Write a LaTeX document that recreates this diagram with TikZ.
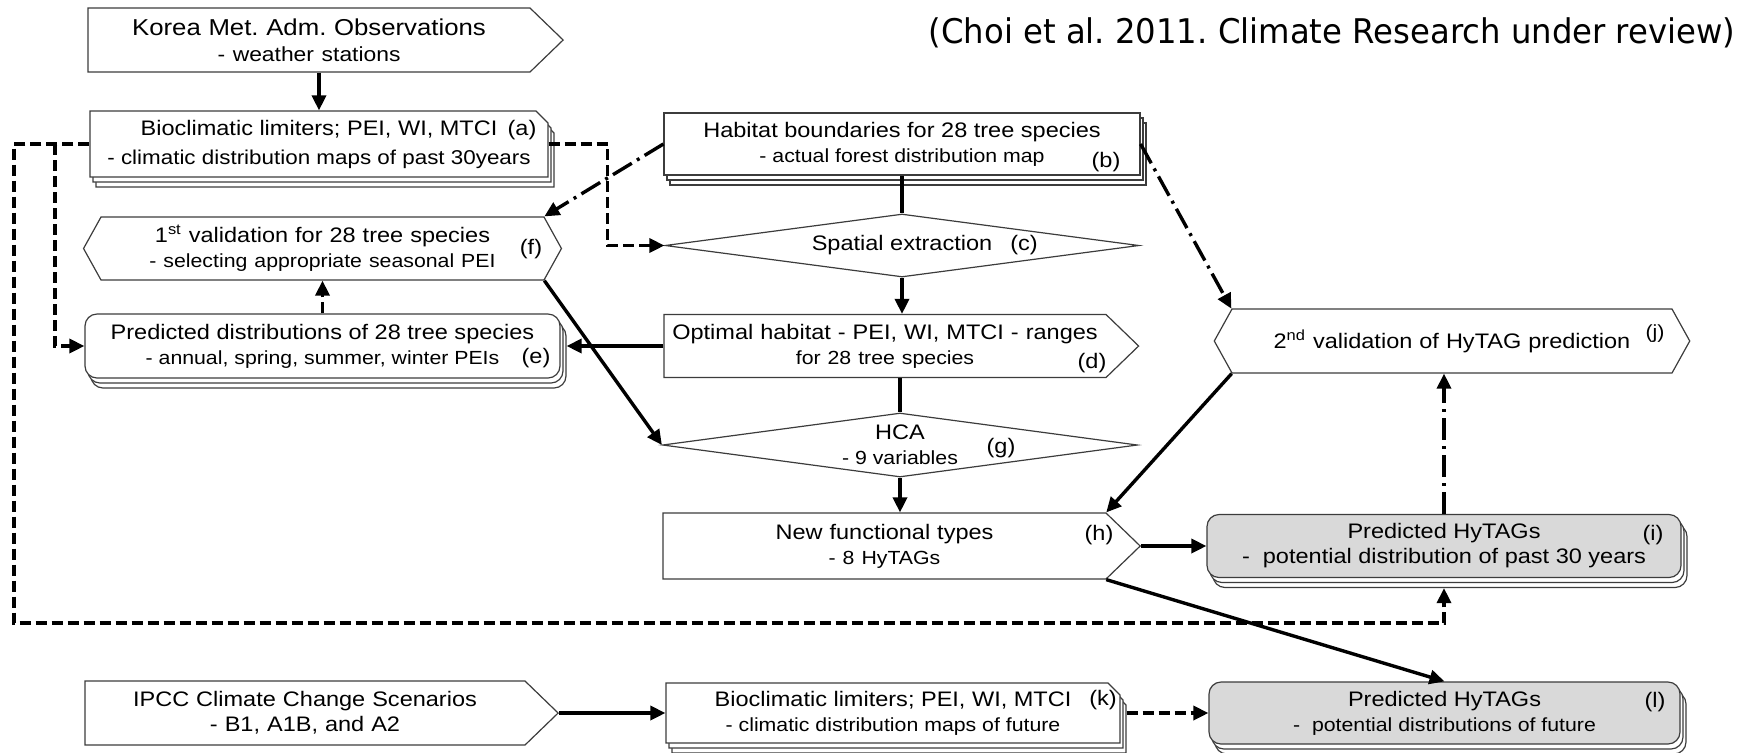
\documentclass[tikz,border=0pt]{standalone}
\usepackage{fontspec}
\setmainfont[FakeStretch=1.12]{Liberation Sans}
\newfontfamily\titlefont[FakeStretch=0.95]{DejaVu Sans}
\usetikzlibrary{arrows.meta,shapes.geometric,shapes.symbols,shapes.misc,shadows}
\definecolor{boxgray}{HTML}{D9D9D9}
\definecolor{edgegray}{HTML}{3C3C3C}
\newcommand{\bigtxt}{\fontsize{10.5}{12.5}\selectfont}
\newcommand{\midtxt}{\fontsize{10}{12.5}\selectfont}
\newcommand{\smalltxt}{\fontsize{9.5}{12.5}\selectfont}
\frenchspacing
\tikzset{
  box/.style={draw=edgegray,line width=0.6pt,fill=white,inner sep=0pt,align=center,font=\bigtxt},
  stack/.style={general shadow={shadow xshift=3pt,shadow yshift=-5pt,fill=white,draw=edgegray,line width=0.6pt},
    general shadow={shadow xshift=1.5pt,shadow yshift=-2.5pt,fill=white,draw=edgegray,line width=0.6pt}},
  arrowbox/.style={box,signal,signal to=east,signal pointer angle=88},
  hexbox/.style={box,signal,signal to=east and west,signal pointer angle=122},
  decision/.style={box,diamond,aspect=7.5},
  docbox/.style={box,stack},
  snipbox/.style={box,stack,chamfered rectangle,chamfered rectangle corners=north east,chamfered rectangle xsep=3pt,chamfered rectangle ysep=3pt},
  roundbox/.style={box,stack,rounded corners=6pt},
  tag/.style={inner sep=0pt,font=\bigtxt},
  arr/.style={line width=1.7pt,-{Triangle[length=7.5pt,width=7pt]}},
  link/.style={line width=1.7pt},
  dsh/.style={arr,dash pattern=on 5.5pt off 2.5pt},
  dashdot/.style={arr,dash pattern=on 11pt off 3pt on 1.5pt off 3pt}
}
\begin{document}
\begin{tikzpicture}[x=0.5pt,y=-0.5pt]
\useasboundingbox (0,0) rectangle (1760,752);
\node[font=\titlefont\fontsize{17}{20}\selectfont] (title) at (1332,33) {(Choi et al. 2011. Climate Research under review)};
\node[arrowbox,text width=221pt,minimum height=32pt,font=\fontsize{11.5}{13}\selectfont] (korea) at (309,40) {Korea Met. Adm. Observations\\\fontsize{10.2}{13}\selectfont - weather stations};
\node[snipbox,minimum width=229pt,minimum height=33pt] (a) at (319,144) {Bioclimatic limiters; PEI, WI, MTCI\\[2pt]\midtxt - climatic distribution maps of past 30years};
\node[tag] (la) at (522,130) {(a)};
\node[docbox,minimum width=238pt,minimum height=31pt] (b) at (902,144) {Habitat boundaries for 28 tree species\\\smalltxt - actual forest distribution map};
\node[tag] (lb) at (1106,162) {(b)};
\node[decision,minimum width=237pt,minimum height=31.5pt] (c) at (902,245.5) {Spatial extraction};
\node[tag] (lc) at (1024,245) {(c)};
\node[hexbox,text width=221.5pt,minimum height=31.5pt] (f) at (322.5,248.5) {1\textsuperscript{st} validation for 28 tree species\\\smalltxt - selecting appropriate seasonal PEI};
\node[tag] (lf) at (531,249) {(f)};
\node[arrowbox,text width=221pt,minimum height=31.5pt] (d) at (885,346) {Optimal habitat - PEI, WI, MTCI - ranges\\\smalltxt for 28 tree species};
\node[tag] (ld) at (1092,363) {(d)};
\node[roundbox,minimum width=237.5pt,minimum height=32pt] (e) at (322.5,346) {Predicted distributions of 28 tree species\\\smalltxt - annual, spring, summer, winter PEIs};
\node[tag] (le) at (536,358) {(e)};
\node[hexbox,text width=220pt,minimum height=32pt] (j) at (1452,341) {2\textsuperscript{nd} validation of HyTAG prediction};
\node[tag,font=\smalltxt] (lj) at (1655,334) {(j)};
\node[decision,minimum width=237.5pt,minimum height=32pt] (g) at (900,445) {HCA\\\smalltxt - 9 variables};
\node[tag] (lg) at (1001,448) {(g)};
\node[arrowbox,text width=221.5pt,minimum height=33pt] (h) at (884.5,546) {New functional types\\\smalltxt - 8 HyTAGs};
\node[tag] (lh) at (1099,535) {(h)};
\node[roundbox,fill=boxgray,minimum width=237pt,minimum height=31.5pt] (i) at (1444,546) {Predicted HyTAGs\\-\ \ potential distribution of past 30 years};
\node[tag] (li) at (1653,535) {(i)};
\node[arrowbox,text width=220pt,minimum height=32pt] (ipcc) at (305,713) {IPCC Climate Change Scenarios\\ - B1, A1B, and A2};
\node[snipbox,minimum width=227pt,minimum height=30pt] (k) at (893,713) {Bioclimatic limiters; PEI, WI, MTCI\\\smalltxt - climatic distribution maps of future};
\node[tag] (lk) at (1103,700) {(k)};
\node[roundbox,fill=boxgray,minimum width=235.5pt,minimum height=31pt] (l) at (1444.5,713) {Predicted HyTAGs\\\smalltxt -\ \ potential distributions of future};
\node[tag] (ll) at (1655,702) {(l)};
\coordinate (lft) at (14,623);
\coordinate (brn) at (55,144);
\draw[arr] (a.north |- korea.south) -- (a.north);
\draw[dsh] (a.west) -| (lft) -| ([yshift=-5pt]i.south);
\draw[dsh] (brn) |- (e.west);
\draw[dsh] (a.east) -- ++(59,0) |- (c.west);
\draw[link] (b.south) -- (c.north);
\draw[dashdot] (b.west) -- (f.north east);
\draw[dashdot] (b.east) -- (j.north west);
\draw[arr] (c.south) -- (c.south |- d.north);
\draw[arr] (d.west) -- ([xshift=3pt]e.east);
\draw[link] (g.north |- d.south) -- (g.north);
\draw[dsh] (e.north) -- (f.south);
\draw[arr] (f.south east) -- (g.west);
\draw[arr] (g.south) -- (g.south |- h.north);
\draw[arr] (j.south west) -- (h.north east);
\draw[arr] (h.east) -- (i.west);
\draw[arr] (h.south east) -- (l.north);
\draw[dashdot] (i.north) -- (i.north |- j.south);
\draw[arr] (ipcc.east) -- (k.west);
\draw[dsh] ([xshift=3pt]k.east) -- (l.west);
\end{tikzpicture}
\end{document}
